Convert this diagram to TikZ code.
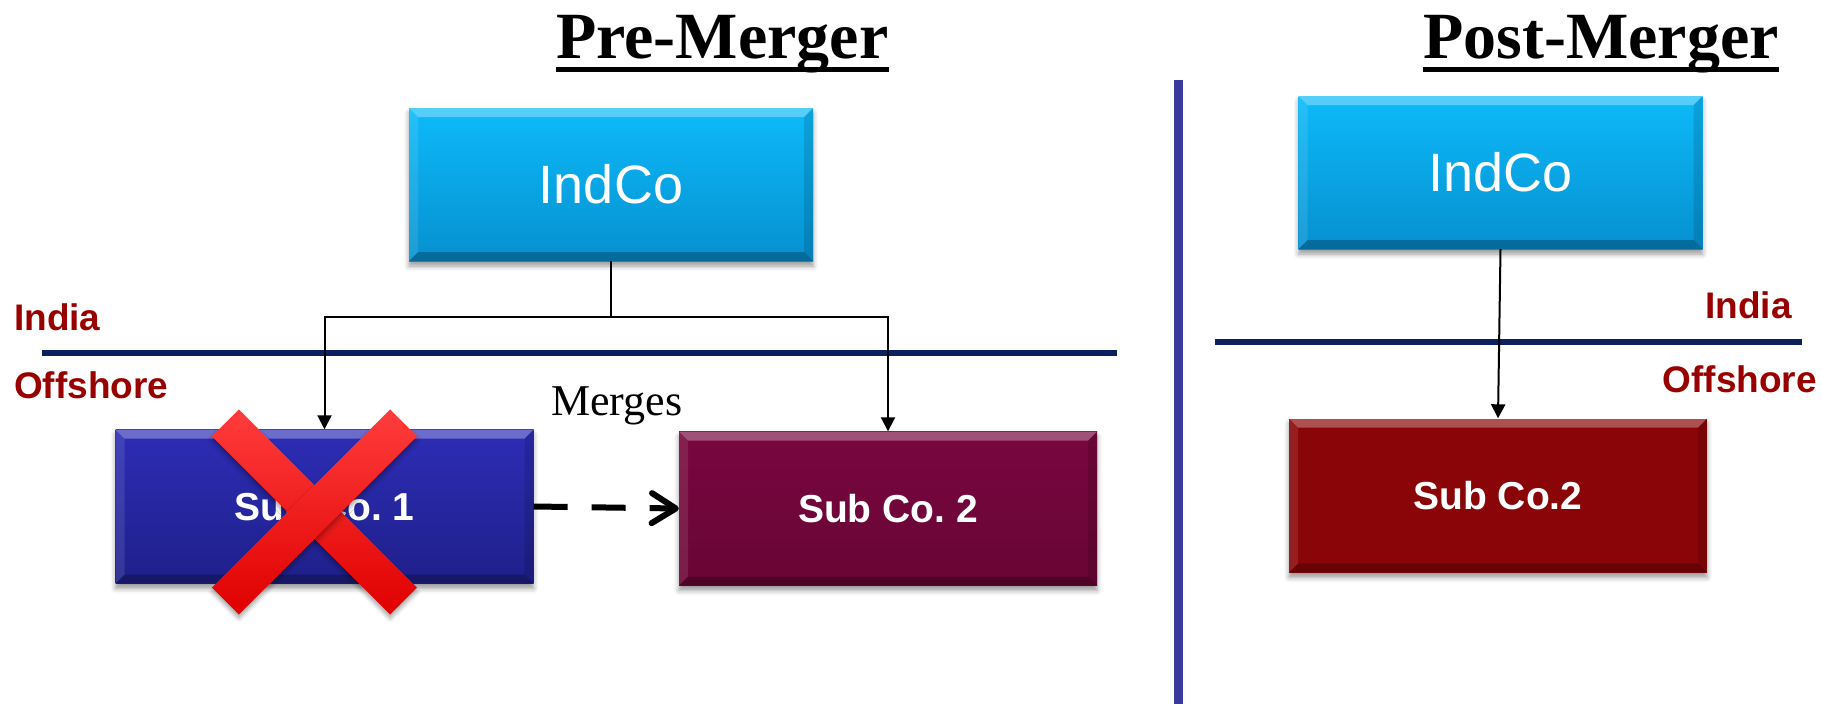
\documentclass[tikz,border=0pt]{standalone}
\usepackage{fontspec}
\setmainfont{Liberation Sans}
\newfontfamily\timesfont{Liberation Serif}
\usetikzlibrary{arrows.meta,shadows.blur}
\frenchspacing

\definecolor{indtop}{HTML}{0DBAF9}
\definecolor{indbot}{HTML}{0690D0}
\definecolor{subonetop}{HTML}{2D2DB6}
\definecolor{subonebot}{HTML}{1F1F8A}
\definecolor{subtwotop}{HTML}{78073F}
\definecolor{subtwobot}{HTML}{690535}
\definecolor{survivor}{HTML}{8A0507}
\definecolor{region}{HTML}{990000}
\definecolor{border}{HTML}{0C1F5E}
\definecolor{divider}{HTML}{3A3A9C}
\definecolor{crosslight}{HTML}{FF3C3C}
\definecolor{crossdark}{HTML}{E00000}

\begin{document}
\begin{tikzpicture}[x=1pt,y=-1pt,
  company/.style={rectangle, inner sep=0pt, text=white,
    blur shadow={shadow xshift=0pt, shadow yshift=-5pt,
      shadow blur radius=5pt, shadow opacity=40},
    path picture={
      \fill[white, opacity=0.30]
        (path picture bounding box.north west) -- (path picture bounding box.north east)
        -- ([xshift=-9pt,yshift=-9pt]path picture bounding box.north east)
        -- ([xshift=9pt,yshift=-9pt]path picture bounding box.north west) -- cycle;
      \fill[white, opacity=0.10]
        (path picture bounding box.north west) -- ([xshift=9pt,yshift=-9pt]path picture bounding box.north west)
        -- ([xshift=9pt,yshift=9pt]path picture bounding box.south west)
        -- (path picture bounding box.south west) -- cycle;
      \fill[black, opacity=0.12]
        (path picture bounding box.north east) -- ([xshift=-9pt,yshift=-9pt]path picture bounding box.north east)
        -- ([xshift=-9pt,yshift=9pt]path picture bounding box.south east)
        -- (path picture bounding box.south east) -- cycle;
      \fill[black, opacity=0.25]
        (path picture bounding box.south west) -- (path picture bounding box.south east)
        -- ([xshift=-9pt,yshift=9pt]path picture bounding box.south east)
        -- ([xshift=9pt,yshift=9pt]path picture bounding box.south west) -- cycle;
    }},
  parent/.style={company, minimum width=404pt, minimum height=153pt,
    top color=indtop, bottom color=indbot,
    font=\fontsize{54}{60}\selectfont},
  child/.style={company, minimum width=418pt, minimum height=154pt,
    font=\bfseries\fontsize{39}{44}\selectfont},
  region/.style={inner sep=0pt, text=region, font=\bfseries\fontsize{37}{42}\selectfont},
  heading/.style={inner sep=0pt, font=\timesfont\bfseries\fontsize{66}{70}\selectfont},
  link/.style={line width=2pt, -{Triangle[length=14pt,width=14pt]}},
  crossbar/.style={rectangle, inner sep=0pt, minimum width=252pt, minimum height=38pt,
    top color=crosslight, middle color=red, bottom color=crossdark,
    blur shadow={shadow xshift=0pt, shadow yshift=-4pt, shadow blur radius=4pt, shadow opacity=35}}
]
\useasboundingbox (0,0) rectangle (1821,704);

% ---------- headings ----------
\node[heading, anchor=base west] (pretitle) at (556,58) {Pre-Merger};
\draw[line width=5pt] ([yshift=-11pt]pretitle.base west) -- ([yshift=-11pt]pretitle.base east);
\node[heading, anchor=base west] (posttitle) at (1423,58) {Post-Merger};
\draw[line width=5pt] ([yshift=-11pt]posttitle.base west) -- ([yshift=-11pt]posttitle.base east);

% ---------- separators ----------
\draw[line width=9pt, divider] (1178.5,80) -- (1178.5,704);
\draw[line width=6pt, border] (42,353) -- (1117,353);
\draw[line width=6pt, border] (1215,342) -- (1802,342);

% ---------- region labels ----------
\node[region, anchor=base west] (indiaL) at (14,330) {India};
\node[region, anchor=base west] (offL) at (14,398) {Offshore};
\node[region, anchor=base east] (indiaR) at (1792,318) {India};
\node[region, anchor=base east] (offR) at (1817,392) {Offshore};

% ---------- before the merger ----------
\node[parent] (indA) at (611,184.5) {IndCo};
\node[child, top color=subonetop, bottom color=subonebot] (subA) at (324.5,506.5) {Sub Co. 1};
\node[child, top color=subtwotop, bottom color=subtwobot] (subB) at (888,508.5) {Sub Co. 2};

\coordinate (split) at (611,317);
\draw[line width=2pt] (indA.south) -- (split);
\draw[link] (split) -| (subA.north);
\draw[link] (split) -| (subB.north);

\node[anchor=base west, inner sep=0pt, font=\timesfont\fontsize{44}{50}\selectfont] (mergeslbl) at (551,415) {Merges};
\draw[line width=6pt, dash pattern=on 34pt off 24pt,
  -{Straight Barb[length=24pt,width=30pt,line cap=round,line join=round]}]
  (subA.east) -- (subB.west);

% struck-out subsidiary
\node[crossbar, rotate=-45] (crossA) at (314.5,512) {};
\node[crossbar, rotate=45] (crossB) at (314.5,512) {};

% ---------- after the merger ----------
\node[parent] (indC) at (1500.5,172.5) {IndCo};
\node[child, fill=survivor] (subC) at (1498,495.5) {Sub Co.2};
\draw[link] (indC.south) -- (subC.north);
\end{tikzpicture}
\end{document}
